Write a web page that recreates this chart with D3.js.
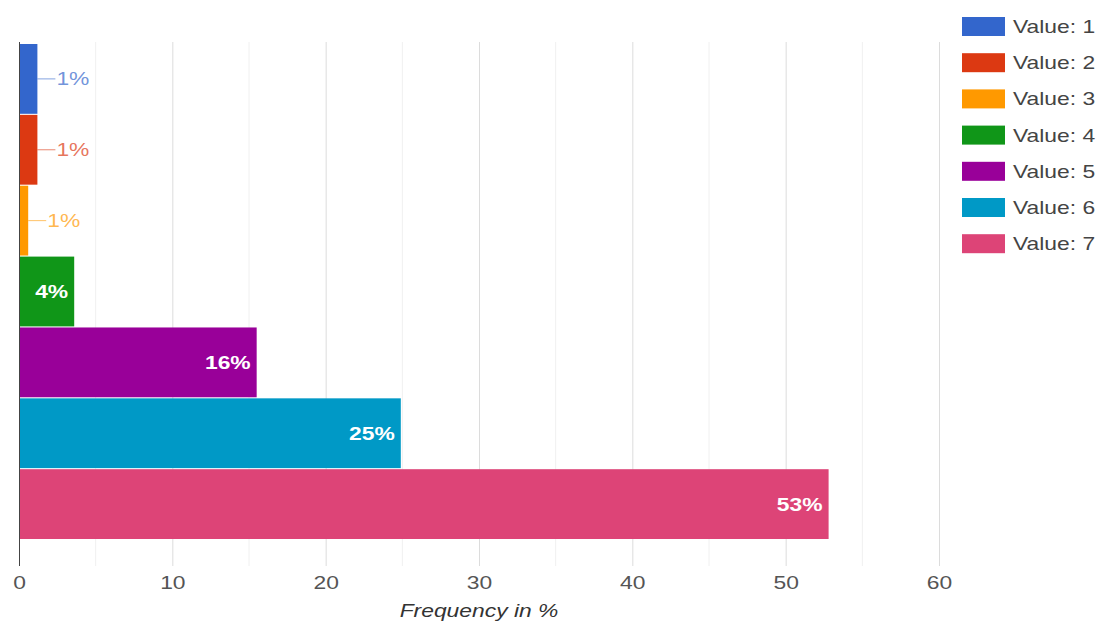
<!DOCTYPE html>
<html><head><meta charset="utf-8">
<script src="https://cdn.jsdelivr.net/npm/d3@7"></script>
<style>body{margin:0;background:#fff;} svg{display:block;font-family:Arial,"Liberation Sans",sans-serif;}</style>
</head><body><svg id="c" width="1103" height="628"></svg>
<script>
const categories = ["Value: 1","Value: 2","Value: 3","Value: 4","Value: 5","Value: 6","Value: 7"];
const values = [1.2, 1.2, 0.6, 3.6, 15.5, 24.9, 52.8];
const labels = ["1%","1%","1%","4%","16%","25%","53%"];
const colors = ["#3366cc","#dc3912","#ff9900","#109618","#990099","#0099c6","#dd4477"];
const majorTicks = [0,10,20,30,40,50,60];
const minorTicks = [5,15,25,35,45,55];

const SX = 1.27; // horizontal text stretch seen in the reference
const svg = d3.select("#c");
const x = d3.scaleLinear().domain([0,60]).range([19,939]);
const y = d3.scaleBand().domain(categories).range([44,539]).paddingInner(0.015);
const gridTop = 42, gridBottom = 566;

function txt(px, py, s, anchor){
  return svg.append("text").attr("transform",`translate(${px},${py}) scale(${SX},1)`)
    .attr("text-anchor",anchor||"start").attr("dy","0.36em").text(s);
}

svg.append("g").selectAll("line").data(minorTicks).join("line")
  .attr("x1",d=>x(d)).attr("x2",d=>x(d)).attr("y1",gridTop).attr("y2",gridBottom)
  .attr("stroke","#f0f0f0").attr("stroke-width",1);
const ax = svg.append("g").attr("transform",`translate(0,${gridBottom})`)
  .call(d3.axisBottom(x).tickValues(majorTicks).tickSize(-(gridBottom-gridTop)).tickPadding(10));
ax.select(".domain").remove();
ax.selectAll(".tick line").attr("stroke","#dcdcdc");
ax.selectAll(".tick text").attr("fill","#555").attr("transform",`scale(${SX},1)`)
  .style("font-size","18px").style("font-family","Arial, 'Liberation Sans', sans-serif");

svg.append("g").selectAll("rect").data(values).join("rect")
  .attr("x",x(0)).attr("y",(d,i)=>y(categories[i])).attr("height",y.bandwidth())
  .attr("width",d=>x(d)-x(0)).attr("fill",(d,i)=>colors[i]);

svg.append("line").attr("x1",x(0)+0.5).attr("x2",x(0)+0.5).attr("y1",gridTop).attr("y2",gridBottom)
  .attr("stroke","#444").attr("stroke-width",1);

values.forEach((v,i)=>{
  const cy = y(categories[i]) + y.bandwidth()/2;
  const xe = x(v);
  if (v < 3) {
    svg.append("line").attr("x1",xe).attr("x2",xe+18).attr("y1",cy).attr("y2",cy)
      .attr("stroke",colors[i]).attr("stroke-opacity",0.6);
    txt(xe+19, cy, labels[i]).attr("fill",colors[i]).attr("fill-opacity",0.7).style("font-size","18px");
  } else {
    txt(xe-6, cy, labels[i], "end").attr("fill","#fff").style("font-size","18px").style("font-weight","bold");
  }
});

txt(x(30), 611, "Frequency in %", "middle").attr("fill","#333").style("font-size","18px").style("font-style","italic");

categories.forEach((c,i)=>{
  const ty = 17 + i*36.2;
  svg.append("rect").attr("x",962).attr("y",ty).attr("width",43).attr("height",19).attr("fill",colors[i]);
  txt(1013, ty+9.5, c).attr("fill","#444").style("font-size","18px");
});
</script></body></html>
